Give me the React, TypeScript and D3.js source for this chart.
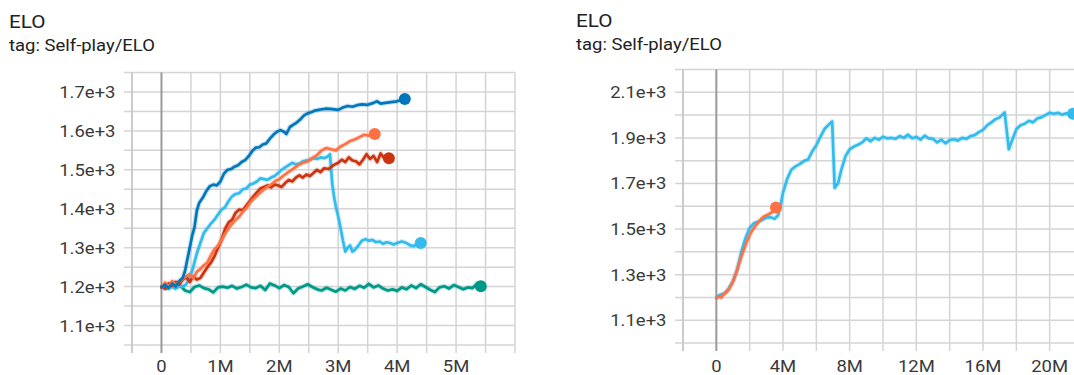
import React from 'react';
import * as d3 from 'd3';

type Pt = [number, number]; // [step in millions, ELO]

// ---- Left panel runs ----
const runDarkBlue: Pt[] = [
  [0, 1198], [0.06, 1205], [0.12, 1196], [0.18, 1208], [0.24, 1200], [0.3, 1214], [0.36, 1222], [0.4, 1240],
  [0.44, 1270], [0.48, 1300], [0.52, 1330], [0.56, 1352], [0.6, 1395], [0.64, 1415], [0.7, 1428], [0.76, 1445],
  [0.82, 1458], [0.88, 1462], [0.94, 1460], [1.0, 1470], [1.06, 1490], [1.12, 1500], [1.18, 1502], [1.24, 1508],
  [1.3, 1512], [1.36, 1520], [1.42, 1525], [1.48, 1535], [1.54, 1548], [1.6, 1557], [1.66, 1558], [1.72, 1565],
  [1.78, 1568], [1.84, 1580], [1.9, 1590], [1.96, 1598], [2.02, 1602], [2.08, 1598], [2.12, 1592], [2.18, 1610],
  [2.24, 1616], [2.3, 1622], [2.36, 1630], [2.42, 1640], [2.48, 1645], [2.54, 1648], [2.6, 1652], [2.7, 1655],
  [2.8, 1657], [2.9, 1656], [3.0, 1654], [3.08, 1660], [3.16, 1664], [3.24, 1662], [3.32, 1666], [3.4, 1668],
  [3.5, 1667], [3.6, 1672], [3.66, 1676], [3.72, 1670], [3.8, 1672], [3.9, 1674], [4.0, 1676], [4.13, 1682],
];

const runOrange: Pt[] = [
  [0, 1196], [0.06, 1210], [0.12, 1200], [0.18, 1214], [0.24, 1205], [0.3, 1212], [0.36, 1220], [0.42, 1226],
  [0.48, 1232], [0.54, 1222], [0.6, 1238], [0.66, 1245], [0.72, 1255], [0.78, 1262], [0.84, 1280], [0.9, 1296],
  [0.96, 1305], [1.02, 1320], [1.08, 1336], [1.14, 1350], [1.2, 1362], [1.26, 1372], [1.32, 1380], [1.38, 1392],
  [1.44, 1402], [1.5, 1415], [1.56, 1425], [1.62, 1433], [1.7, 1445], [1.78, 1455], [1.86, 1462], [1.94, 1472],
  [2.0, 1476], [2.08, 1486], [2.16, 1495], [2.24, 1503], [2.32, 1512], [2.4, 1518], [2.48, 1522], [2.56, 1530],
  [2.64, 1538], [2.72, 1550], [2.8, 1556], [2.88, 1553], [2.96, 1550], [3.04, 1560], [3.12, 1566], [3.2, 1574],
  [3.28, 1578], [3.36, 1584], [3.44, 1590], [3.52, 1588], [3.62, 1592],
];

const runRed: Pt[] = [
  [0, 1200], [0.06, 1195], [0.12, 1208], [0.18, 1202], [0.24, 1212], [0.3, 1205], [0.36, 1218], [0.42, 1224],
  [0.48, 1212], [0.54, 1226], [0.6, 1218], [0.66, 1222], [0.72, 1236], [0.78, 1250], [0.84, 1262], [0.9, 1278],
  [0.96, 1300], [1.02, 1320], [1.08, 1348], [1.14, 1365], [1.2, 1372], [1.26, 1390], [1.32, 1398], [1.38, 1396],
  [1.44, 1408], [1.5, 1420], [1.56, 1432], [1.62, 1442], [1.68, 1452], [1.74, 1456], [1.8, 1460], [1.86, 1455],
  [1.92, 1462], [1.98, 1460], [2.04, 1456], [2.1, 1466], [2.16, 1474], [2.22, 1470], [2.28, 1480], [2.34, 1486],
  [2.4, 1480], [2.46, 1488], [2.52, 1484], [2.58, 1492], [2.64, 1500], [2.7, 1494], [2.76, 1504], [2.84, 1502],
  [2.92, 1512], [3.0, 1518], [3.06, 1526], [3.12, 1520], [3.18, 1532], [3.24, 1524], [3.3, 1522], [3.36, 1514],
  [3.42, 1526], [3.48, 1540], [3.54, 1528], [3.6, 1536], [3.66, 1520], [3.72, 1542], [3.78, 1530], [3.86, 1530],
];

const runLightBlue: Pt[] = [
  [0, 1198], [0.06, 1204], [0.12, 1195], [0.18, 1200], [0.24, 1196], [0.3, 1202], [0.36, 1200], [0.42, 1206],
  [0.48, 1225], [0.52, 1240], [0.56, 1262], [0.6, 1285], [0.66, 1312], [0.72, 1338], [0.78, 1350], [0.84, 1362],
  [0.9, 1372], [0.96, 1385], [1.02, 1398], [1.08, 1404], [1.14, 1420], [1.2, 1432], [1.26, 1438], [1.32, 1440],
  [1.38, 1450], [1.44, 1452], [1.5, 1462], [1.56, 1465], [1.62, 1470], [1.68, 1478], [1.74, 1476], [1.8, 1474],
  [1.86, 1480], [1.92, 1484], [1.98, 1492], [2.04, 1500], [2.1, 1506], [2.16, 1512], [2.22, 1518], [2.28, 1514],
  [2.34, 1516], [2.4, 1522], [2.46, 1524], [2.52, 1526], [2.58, 1530], [2.64, 1528], [2.7, 1532], [2.76, 1530],
  [2.82, 1534], [2.86, 1540], [2.88, 1500], [2.9, 1462], [2.93, 1430], [2.96, 1405], [3.0, 1380], [3.04, 1350],
  [3.08, 1318], [3.12, 1290], [3.16, 1300], [3.2, 1306], [3.24, 1290], [3.28, 1294], [3.34, 1305], [3.4, 1318],
  [3.46, 1322], [3.52, 1318], [3.58, 1320], [3.64, 1314], [3.7, 1316], [3.76, 1310], [3.82, 1314], [3.88, 1312],
  [3.94, 1308], [4.0, 1312], [4.08, 1316], [4.16, 1312], [4.22, 1306], [4.28, 1304], [4.34, 1310], [4.4, 1312],
];

const runTeal: Pt[] = [
  [0, 1200], [0.08, 1195], [0.16, 1205], [0.24, 1196], [0.32, 1203], [0.4, 1190], [0.48, 1186], [0.56, 1199],
  [0.64, 1203], [0.72, 1196], [0.8, 1193], [0.88, 1185], [0.96, 1198], [1.04, 1200], [1.12, 1197], [1.2, 1202],
  [1.28, 1195], [1.36, 1199], [1.44, 1205], [1.52, 1198], [1.6, 1196], [1.68, 1202], [1.76, 1191], [1.84, 1208],
  [1.92, 1203], [2.0, 1196], [2.08, 1204], [2.16, 1199], [2.24, 1183], [2.32, 1195], [2.4, 1200], [2.48, 1206],
  [2.56, 1199], [2.64, 1193], [2.72, 1190], [2.8, 1197], [2.88, 1192], [2.96, 1187], [3.04, 1195], [3.12, 1190],
  [3.2, 1199], [3.28, 1194], [3.36, 1202], [3.44, 1197], [3.52, 1207], [3.6, 1198], [3.68, 1203], [3.76, 1195],
  [3.84, 1190], [3.92, 1193], [4.0, 1189], [4.08, 1198], [4.16, 1193], [4.24, 1203], [4.32, 1196], [4.4, 1206],
  [4.48, 1199], [4.56, 1192], [4.64, 1186], [4.72, 1198], [4.8, 1201], [4.88, 1195], [4.96, 1204], [5.04, 1199],
  [5.12, 1193], [5.2, 1198], [5.28, 1196], [5.36, 1209], [5.42, 1201],
];

// ---- Right panel runs ----
const longRunLightBlue: Pt[] = [
  [0, 1200], [0.25, 1212], [0.5, 1218], [0.75, 1240], [1.0, 1270], [1.25, 1320], [1.5, 1400], [1.75, 1460],
  [2.0, 1505], [2.25, 1525], [2.5, 1532], [2.75, 1540], [3.0, 1550], [3.25, 1552], [3.5, 1545], [3.7, 1560],
  [3.85, 1600], [4.0, 1660], [4.25, 1720], [4.5, 1760], [4.75, 1775], [5.0, 1785], [5.25, 1798], [5.5, 1805],
  [5.75, 1840], [6.0, 1868], [6.25, 1905], [6.5, 1940], [6.75, 1958], [6.95, 1972], [7.1, 1680], [7.3, 1700],
  [7.5, 1760], [7.75, 1820], [8.0, 1850], [8.25, 1862], [8.5, 1870], [8.75, 1880], [9.0, 1898], [9.25, 1885],
  [9.5, 1900], [9.75, 1892], [10.0, 1905], [10.25, 1898], [10.5, 1900], [10.75, 1896], [11.0, 1908], [11.25, 1900],
  [11.5, 1914], [11.75, 1898], [12.0, 1904], [12.25, 1892], [12.5, 1910], [12.75, 1898], [13.0, 1896], [13.25, 1880],
  [13.5, 1892], [13.75, 1876], [14.0, 1890], [14.25, 1894], [14.5, 1888], [14.75, 1900], [15.0, 1896], [15.25, 1908],
  [15.5, 1912], [15.75, 1925], [16.0, 1935], [16.25, 1955], [16.5, 1968], [16.75, 1982], [17.0, 1990], [17.3, 2012],
  [17.55, 1850], [17.75, 1890], [18.0, 1938], [18.25, 1955], [18.5, 1962], [18.75, 1975], [19.0, 1968], [19.25, 1985],
  [19.5, 1990], [19.75, 2000], [20.0, 2010], [20.25, 2006], [20.5, 2010], [20.75, 2002], [21.0, 2008], [21.4, 2006],
];

const longRunOrange: Pt[] = [
  [0, 1195], [0.15, 1205], [0.3, 1200], [0.45, 1215], [0.6, 1222], [0.75, 1235], [0.9, 1255], [1.05, 1280],
  [1.2, 1310], [1.35, 1345], [1.5, 1380], [1.65, 1410], [1.8, 1440], [1.95, 1465], [2.1, 1488], [2.25, 1505],
  [2.4, 1520], [2.55, 1532], [2.7, 1545], [2.85, 1555], [3.0, 1560], [3.15, 1565], [3.3, 1572], [3.45, 1585],
  [3.58, 1595],
];

// ---- Ticks ----
const leftXTicks = [0, 1, 2, 3, 4, 5];
const leftYTicks = [1100, 1200, 1300, 1400, 1500, 1600, 1700];
const rightXTicks = [0, 4, 8, 12, 16, 20];
const rightYTicks = [1100, 1300, 1500, 1700, 1900, 2100];

const COLORS = {
  orange: '#ff7043',
  darkBlue: '#0077bb',
  red: '#cc3311',
  lightBlue: '#33bbee',
  teal: '#009988',
};

const TITLE = 'ELO';
const SUBTITLE = 'tag: Self-play/ELO';

const FONT = 'Roboto, "Noto Sans", sans-serif';
const STRETCH = 1.12;

const fmtX = (v: number) => (v === 0 ? '0' : `${v}M`);
const fmtY = (v: number) => `${(v / 1000).toFixed(1)}e+3`;

function Label(props: {
  x: number; y: number; anchor?: 'start' | 'middle' | 'end'; size: number; fill: string; children: string;
}) {
  const { x, y, anchor = 'start', size, fill, children } = props;
  return (
    <g transform={`translate(${x},${y}) scale(${STRETCH},1)`}>
      <text textAnchor={anchor} fontSize={size} fill={fill} fontFamily={FONT}>
        {children}
      </text>
    </g>
  );
}

interface Run { data: Pt[]; color: string }

interface PanelProps {
  titleX: number;
  titleY: number;
  x: d3.ScaleLinear<number, number>;
  y: d3.ScaleLinear<number, number>;
  xGrid: number[];
  yGrid: number[];
  xTicks: number[];
  yTicks: number[];
  labelRight: number;
  xLabelBaseline: number;
  runs: Run[];
  clipId: string;
}

function Panel(p: PanelProps) {
  const [x0, x1] = p.x.range();
  const [y1, y0] = p.y.range();
  const line = d3
    .line<Pt>()
    .x((d) => p.x(d[0]))
    .y((d) => p.y(d[1]));
  const ext = 8;
  return (
    <g>
      <Label x={p.titleX} y={p.titleY} size={18.5} fill="#212121">{TITLE}</Label>
      <Label x={p.titleX} y={p.titleY + 23} size={16.5} fill="#212121">{SUBTITLE}</Label>

      <defs>
        <clipPath id={p.clipId}>
          <rect x={x0} y={y0 - 8} width={x1 - x0} height={y1 - y0 + 8} />
        </clipPath>
      </defs>

      {p.yGrid.map((v) => (
        <line key={`h${v}`} x1={x0 - ext} x2={x1} y1={p.y(v)} y2={p.y(v)} stroke="#d4d4d4" strokeWidth={1.5} />
      ))}
      {p.xGrid.map((v) => (
        <line
          key={`v${v}`}
          x1={p.x(v)}
          x2={p.x(v)}
          y1={y0}
          y2={y1 + ext}
          stroke={v === 0 ? '#9a9a9a' : '#d4d4d4'}
          strokeWidth={v === 0 ? 2 : 1.5}
        />
      ))}
      <line x1={x0} x2={x0} y1={y0} y2={y1 + ext} stroke="#c4c4c4" strokeWidth={1.5} />

      {p.yTicks.map((v) => (
        <Label key={`yl${v}`} x={p.labelRight} y={p.y(v) + 6} anchor="end" size={16.5} fill="#3a3a3a">
          {fmtY(v)}
        </Label>
      ))}
      {p.xTicks.map((v) => (
        <Label key={`xl${v}`} x={p.x(v)} y={p.xLabelBaseline} anchor="middle" size={16.5} fill="#3a3a3a">
          {fmtX(v)}
        </Label>
      ))}

      <g clipPath={`url(#${p.clipId})`}>
        {p.runs.map((r, i) => (
          <path key={`halo${i}`} d={line(r.data) ?? ''} fill="none" stroke={r.color} strokeOpacity={0.22}
            strokeWidth={5} strokeLinejoin="round" />
        ))}
      </g>
      {p.runs.map((r, i) => {
        const last = r.data[r.data.length - 1];
        return (
          <g key={`run${i}`}>
            <path d={line(r.data) ?? ''} fill="none" stroke={r.color} strokeWidth={2.7}
              strokeLinejoin="round" strokeLinecap="round" />
            <circle cx={p.x(last[0])} cy={p.y(last[1])} r={6} fill={r.color} />
          </g>
        );
      })}
    </g>
  );
}

export default function App() {
  const leftX = d3.scaleLinear().domain([-0.5, 6]).range([132, 515]);
  const leftY = d3.scaleLinear().domain([1050, 1750]).range([345, 72.5]);
  const rightX = d3.scaleLinear().domain([-2, 22]).range([683, 1083]);
  const rightY = d3.scaleLinear().domain([1000, 2200]).range([343, 69.5]);

  return (
    <svg
      width={1074}
      height={375}
      style={{ position: 'absolute', left: 0, top: 0, background: '#fff' }}
    >
      <rect width={1074} height={375} fill="#fff" />
      <Panel
        titleX={9}
        titleY={27.5}
        x={leftX}
        y={leftY}
        xGrid={d3.range(-0.5, 6.01, 0.5)}
        yGrid={d3.range(1050, 1751, 50)}
        xTicks={leftXTicks}
        yTicks={leftYTicks}
        labelRight={115.5}
        xLabelBaseline={372}
        clipId="clip-left"
        runs={[
          { data: runTeal, color: COLORS.teal },
          { data: runLightBlue, color: COLORS.lightBlue },
          { data: runRed, color: COLORS.red },
          { data: runOrange, color: COLORS.orange },
          { data: runDarkBlue, color: COLORS.darkBlue },
        ]}
      />
      <Panel
        titleX={576}
        titleY={26.5}
        x={rightX}
        y={rightY}
        xGrid={d3.range(-2, 22.01, 2)}
        yGrid={d3.range(1000, 2201, 100)}
        xTicks={rightXTicks}
        yTicks={rightYTicks}
        labelRight={666.5}
        xLabelBaseline={372}
        clipId="clip-right"
        runs={[
          { data: longRunLightBlue, color: COLORS.lightBlue },
          { data: longRunOrange, color: COLORS.orange },
        ]}
      />
    </svg>
  );
}
